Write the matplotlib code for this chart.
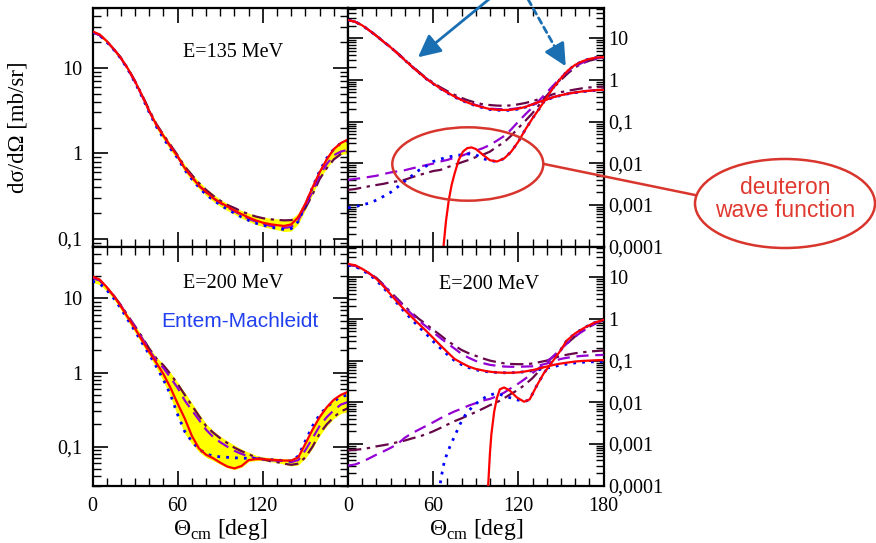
import numpy as np
import matplotlib
matplotlib.use("Agg")
import matplotlib.pyplot as plt
from matplotlib.ticker import MultipleLocator, LogLocator, FixedLocator, FuncFormatter, NullFormatter
from matplotlib.patches import Ellipse
from matplotlib.lines import Line2D

plt.rcParams['font.family'] = ['Liberation Serif', 'DejaVu Serif']
plt.rcParams['mathtext.fontset'] = 'custom'
plt.rcParams['mathtext.rm'] = 'Liberation Serif'

# common angle grid (deg)
ang = np.arange(0, 181, 5)

# ---- E=135 MeV, left (total) ----
tl_red = [26.5, 24.5, 20.5, 16.5, 13.0, 9.7, 6.9, 4.7, 3.1, 2.15, 1.6, 1.2, 0.92, 0.67, 0.53, 0.42, 0.356, 0.30,
          0.267, 0.24, 0.215, 0.195, 0.178, 0.165, 0.155, 0.149, 0.145, 0.142, 0.148, 0.18, 0.26, 0.40, 0.60, 0.85,
          1.12, 1.32, 1.45]
tl_vio = [26, 24, 20.3, 16.4, 12.9, 9.6, 6.8, 4.65, 3.1, 2.15, 1.6, 1.2, 0.92, 0.67, 0.53, 0.42, 0.35, 0.30, 0.262,
          0.235, 0.21, 0.19, 0.172, 0.16, 0.15, 0.143, 0.138, 0.135, 0.138, 0.165, 0.24, 0.36, 0.55, 0.75, 0.95,
          1.05, 1.1]
tl_mar = [26, 24, 20.3, 16.5, 13.1, 9.8, 7.0, 4.8, 3.2, 2.2, 1.65, 1.25, 0.95, 0.70, 0.56, 0.45, 0.375, 0.32, 0.28,
          0.25, 0.23, 0.21, 0.195, 0.183, 0.175, 0.17, 0.167, 0.165, 0.166, 0.18, 0.23, 0.33, 0.50, 0.67, 0.85,
          0.98, 1.05]
tl_blu = [26, 24, 20, 16.2, 12.8, 9.5, 6.7, 4.55, 3.0, 2.05, 1.5, 1.13, 0.88, 0.64, 0.50, 0.40, 0.33, 0.285, 0.25,
          0.222, 0.20, 0.18, 0.165, 0.153, 0.145, 0.138, 0.133, 0.129, 0.132, 0.16, 0.25, 0.40, 0.62, 0.88, 1.12,
          1.32, 1.42]
tl_lo = [25.5, 23.5, 19.5, 15.8, 12.4, 9.2, 6.5, 4.4, 2.9, 1.95, 1.45, 1.08, 0.85, 0.61, 0.48, 0.385, 0.32, 0.275,
         0.24, 0.215, 0.195, 0.175, 0.16, 0.148, 0.14, 0.133, 0.128, 0.122, 0.124, 0.15, 0.22, 0.33, 0.50, 0.67,
         0.85, 0.97, 1.0]
tl_hi = [27.5, 25.2, 21.3, 17, 13.6, 10.1, 7.2, 4.95, 3.3, 2.3, 1.72, 1.3, 0.98, 0.74, 0.58, 0.47, 0.39, 0.335,
         0.29, 0.26, 0.235, 0.215, 0.20, 0.188, 0.18, 0.175, 0.172, 0.17, 0.172, 0.20, 0.28, 0.43, 0.65, 0.92,
         1.18, 1.38, 1.5]

# ---- E=200 MeV, left (total) ----
bl_red = [19.7, 18, 14.2, 10.8, 7.8, 5.5, 3.9, 2.7, 1.9, 1.35, 0.95, 0.62, 0.38, 0.24, 0.14, 0.095, 0.078, 0.07,
          0.061, 0.054, 0.051, 0.055, 0.066, 0.068, 0.068, 0.067, 0.066, 0.065, 0.065, 0.072, 0.11, 0.17, 0.25,
          0.34, 0.43, 0.50, 0.55]
bl_vio = [19, 17.5, 14, 10.8, 8.0, 5.7, 4.1, 2.9, 2.0, 1.45, 1.15, 0.85, 0.62, 0.42, 0.31, 0.23, 0.17, 0.135, 0.115,
          0.10, 0.088, 0.08, 0.074, 0.07, 0.068, 0.066, 0.065, 0.064, 0.062, 0.066, 0.09, 0.13, 0.19, 0.25, 0.31,
          0.37, 0.40]
bl_mar = [19, 17.5, 14, 10.9, 8.1, 5.8, 4.2, 3.0, 2.1, 1.55, 1.25, 0.95, 0.70, 0.50, 0.36, 0.26, 0.19, 0.155, 0.13,
          0.112, 0.097, 0.087, 0.079, 0.072, 0.068, 0.064, 0.062, 0.059, 0.057, 0.059, 0.072, 0.10, 0.15, 0.20,
          0.25, 0.30, 0.33]
bl_blu = [17, 15.8, 13, 10, 7.3, 5.1, 3.6, 2.5, 1.75, 1.2, 0.80, 0.50, 0.27, 0.16, 0.118, 0.093, 0.08, 0.075, 0.073,
          0.072, 0.071, 0.07, 0.07, 0.069, 0.068, 0.067, 0.066, 0.065, 0.064, 0.075, 0.12, 0.19, 0.27, 0.34, 0.41,
          0.47, 0.50]
bl_lo = [16.5, 15.3, 12.6, 9.7, 7.0, 4.9, 3.45, 2.4, 1.68, 1.15, 0.76, 0.47, 0.26, 0.15, 0.11, 0.085, 0.072, 0.065,
         0.058, 0.052, 0.049, 0.053, 0.063, 0.065, 0.065, 0.063, 0.061, 0.058, 0.055, 0.057, 0.07, 0.095, 0.14,
         0.19, 0.24, 0.28, 0.30]
bl_hi = [20.3, 18.6, 14.7, 11.3, 8.4, 6.0, 4.35, 3.1, 2.2, 1.62, 1.3, 1.0, 0.74, 0.54, 0.39, 0.28, 0.205, 0.165,
         0.138, 0.12, 0.105, 0.093, 0.084, 0.077, 0.073, 0.071, 0.07, 0.069, 0.068, 0.077, 0.12, 0.18, 0.26, 0.35,
         0.44, 0.51, 0.56]

# ---- E=135 MeV, right: two contributions ----
tr_red_a = [27.5, 25, 20.5, 15.5, 11.5, 8.3, 6.1, 4.3, 3.0, 2.1, 1.5, 1.08, 0.82, 0.63, 0.50, 0.40, 0.33, 0.28,
            0.245, 0.22, 0.20, 0.192, 0.19, 0.192, 0.205, 0.225, 0.26, 0.30, 0.34, 0.39, 0.43, 0.47, 0.50, 0.53,
            0.55, 0.57, 0.58]
tr_blu_a = [27.5, 25, 20.5, 15.5, 11.5, 8.3, 6.1, 4.3, 3.0, 2.1, 1.5, 1.08, 0.81, 0.62, 0.49, 0.39, 0.325, 0.275,
            0.24, 0.215, 0.195, 0.188, 0.185, 0.188, 0.20, 0.222, 0.255, 0.295, 0.335, 0.385, 0.425, 0.465, 0.495,
            0.525, 0.545, 0.565, 0.575]
tr_vio_a = [27.5, 25, 20.5, 15.5, 11.5, 8.3, 6.1, 4.3, 3.0, 2.1, 1.5, 1.08, 0.82, 0.63, 0.50, 0.40, 0.335, 0.285,
            0.25, 0.225, 0.205, 0.2, 0.198, 0.2, 0.21, 0.23, 0.26, 0.30, 0.34, 0.39, 0.43, 0.47, 0.50, 0.53, 0.55,
            0.57, 0.58]
tr_mar_a = [27.5, 25, 20.5, 15.5, 11.5, 8.4, 6.2, 4.4, 3.1, 2.2, 1.55, 1.12, 0.86, 0.67, 0.54, 0.44, 0.37, 0.32,
            0.285, 0.26, 0.25, 0.242, 0.24, 0.245, 0.26, 0.28, 0.31, 0.35, 0.40, 0.46, 0.51, 0.55, 0.59, 0.63, 0.66,
            0.68, 0.69]
tr_ang_red_b = [67, 69, 71, 73, 75, 78, 81, 84, 87, 90, 95, 100, 105, 110, 115, 120, 125, 130, 135, 140, 145, 150,
                155, 160, 165, 170, 175, 180]
tr_red_b = [0.00008, 0.0004, 0.0013, 0.003, 0.0055, 0.012, 0.019, 0.023, 0.024, 0.022, 0.016, 0.0118, 0.011, 0.013,
            0.019, 0.033, 0.065, 0.12, 0.21, 0.38, 0.68, 1.1, 1.7, 2.3, 2.8, 3.2, 3.45, 3.55]
tr_blu_b = [0.00085, 0.0009, 0.001, 0.0011, 0.0013, 0.0016, 0.002, 0.0027, 0.0037, 0.005, 0.0068, 0.0085, 0.011,
            0.0125, 0.014, 0.015, 0.016, 0.0167, 0.016, 0.013, 0.0115, 0.011, 0.013, 0.019, 0.033, 0.065, 0.12,
            0.21, 0.38, 0.68, 1.1, 1.7, 2.3, 2.8, 3.2, 3.45, 3.55]
tr_vio_b = [0.004, 0.0042, 0.0044, 0.0047, 0.005, 0.0055, 0.006, 0.0064, 0.0068, 0.0075, 0.0082, 0.009, 0.0098,
            0.011, 0.012, 0.0135, 0.015, 0.0175, 0.02, 0.023, 0.0275, 0.035, 0.045, 0.065, 0.10, 0.15, 0.22, 0.33,
            0.50, 0.76, 1.15, 1.6, 2.1, 2.6, 3.0, 3.3, 3.5]
tr_mar_b = [0.0023, 0.0024, 0.0026, 0.0028, 0.003, 0.0032, 0.0035, 0.0037, 0.004, 0.0046, 0.0052, 0.0058, 0.0065,
            0.0069, 0.008, 0.0092, 0.0105, 0.012, 0.014, 0.016, 0.019, 0.025, 0.032, 0.046, 0.07, 0.105, 0.16,
            0.26, 0.42, 0.66, 1.0, 1.45, 2.0, 2.5, 2.9, 3.2, 3.4]

# ---- E=200 MeV, right: two contributions ----
br_red_a = [21, 19.5, 16, 12.5, 9.2, 6.1, 3.9, 2.5, 1.63, 1.1, 0.755, 0.52, 0.35, 0.235, 0.16, 0.11, 0.088, 0.072,
            0.063, 0.058, 0.054, 0.052, 0.051, 0.051, 0.052, 0.055, 0.059, 0.065, 0.072, 0.079, 0.085, 0.09, 0.095,
            0.098, 0.10, 0.102, 0.103]
br_blu_a = [19.5, 18.3, 15, 11.7, 8.5, 5.6, 3.6, 2.3, 1.45, 0.97, 0.64, 0.44, 0.29, 0.20, 0.14, 0.10, 0.08, 0.068,
            0.06, 0.056, 0.053, 0.052, 0.051, 0.051, 0.052, 0.054, 0.057, 0.061, 0.066, 0.072, 0.078, 0.083, 0.088,
            0.091, 0.093, 0.094, 0.095]
br_vio_a = [20, 19, 15.5, 12.3, 9.5, 6.5, 4.2, 2.8, 1.9, 1.3, 0.90, 0.66, 0.48, 0.35, 0.26, 0.195, 0.145, 0.117,
            0.098, 0.087, 0.079, 0.075, 0.072, 0.071, 0.071, 0.072, 0.073, 0.077, 0.085, 0.097, 0.11, 0.118, 0.125,
            0.13, 0.133, 0.135, 0.137]
br_mar_a = [20, 19, 15.5, 12.4, 9.7, 6.7, 4.4, 3.0, 2.0, 1.4, 1.0, 0.75, 0.55, 0.41, 0.30, 0.23, 0.18, 0.15, 0.13,
            0.113, 0.10, 0.092, 0.086, 0.083, 0.082, 0.082, 0.085, 0.092, 0.10, 0.115, 0.13, 0.14, 0.15, 0.158,
            0.165, 0.17, 0.175]
br_ang_red_b = [98.5, 100, 101, 103, 105, 107, 110, 114, 119, 124, 128, 133, 138, 145, 150, 154, 160, 166, 173, 180]
br_red_b = [0.00007, 0.0006, 0.0017, 0.006, 0.013, 0.0205, 0.0226, 0.019, 0.013, 0.0103, 0.0117, 0.025, 0.05,
            0.105, 0.18, 0.30, 0.45, 0.60, 0.80, 0.95]
br_ang_blu_b = [64, 66, 68, 70, 72, 75, 79, 83, 88, 93, 98, 103, 107, 112, 117, 121, 125, 128, 133, 138, 145, 150,
                154, 160, 166, 173, 180]
br_blu_b = [0.00007, 0.00018, 0.0004, 0.0006, 0.0009, 0.0015, 0.003, 0.0052, 0.008, 0.011, 0.014, 0.016, 0.0155,
            0.0135, 0.012, 0.011, 0.0105, 0.0117, 0.025, 0.05, 0.105, 0.18, 0.30, 0.45, 0.60, 0.80, 0.95]
br_vio_b = [0.0003, 0.00032, 0.00037, 0.00045, 0.00055, 0.00066, 0.0008, 0.001, 0.0014, 0.0018, 0.0022, 0.0027,
            0.0033, 0.0041, 0.005, 0.006, 0.007, 0.0083, 0.0095, 0.011, 0.012, 0.014, 0.017, 0.022, 0.028, 0.037,
            0.05, 0.068, 0.094, 0.13, 0.19, 0.27, 0.38, 0.50, 0.65, 0.80, 0.95]
br_mar_b = [0.0007, 0.00072, 0.00075, 0.0008, 0.00087, 0.00093, 0.001, 0.0011, 0.0012, 0.00135, 0.0015, 0.0017,
            0.002, 0.0024, 0.0029, 0.0035, 0.0041, 0.0049, 0.0058, 0.007, 0.0085, 0.010, 0.0125, 0.016, 0.02, 0.027,
            0.038, 0.058, 0.09, 0.13, 0.19, 0.27, 0.38, 0.50, 0.65, 0.80, 0.95]

RED = '#ff0000'
BLUE = '#0000ff'
VIOLET = '#9400d3'
MAROON = '#670748'


def curves(ax, x, red, blu, vio, mar, xred=None, xblu=None):
    ax.plot(x, mar, color=MAROON, lw=1.6, ls=(0, (6, 2.5, 1.5, 2.5)), zorder=3)
    ax.plot(x, vio, color=VIOLET, lw=1.6, ls=(0, (5.5, 3)), zorder=4)
    ax.plot(x if xblu is None else xblu, blu, color=BLUE, lw=2.0, ls=(0, (1, 2.2)), zorder=5)
    ax.plot(x if xred is None else xred, red, color=RED, lw=1.6, zorder=6)


def yfmt(v, pos):
    if v >= 1:
        return '%d' % round(v)
    return ('%g' % v).replace('.', ',')


def style(ax, ylim, yticks, right_labels, xlabels):
    ax.set_xlim(0, 180)
    ax.set_yscale('log')
    ax.set_ylim(*ylim)
    ax.xaxis.set_major_locator(MultipleLocator(60))
    ax.xaxis.set_minor_locator(MultipleLocator(10))
    ax.yaxis.set_major_locator(FixedLocator(yticks))
    ax.yaxis.set_minor_locator(LogLocator(base=10, subs=np.arange(2, 10), numticks=20))
    ax.yaxis.set_major_formatter(FuncFormatter(yfmt))
    ax.yaxis.set_minor_formatter(NullFormatter())
    ax.tick_params(which='major', direction='in', length=11, width=1.2, top=True, right=True,
                   labelsize=14.5)
    ax.tick_params(which='minor', direction='in', length=6, width=1.0, top=True, right=True)
    ax.tick_params(axis='x', pad=8)
    if right_labels:
        ax.tick_params(axis='y', labelleft=False, labelright=True, pad=3.5)
    else:
        ax.tick_params(axis='y', pad=7)
    if xlabels is None:
        ax.tick_params(axis='x', labelbottom=False)
    else:
        ax.xaxis.set_major_formatter(FuncFormatter(lambda v, p: str(int(v)) if int(v) in xlabels else ''))
        ax.set_xlabel(r'Θ$_{\mathrm{cm}}$ [deg]', fontsize=17, labelpad=1)
    for s in ax.spines.values():
        s.set_linewidth(1.6)


fig = plt.figure(figsize=(8.76, 5.43), dpi=100)
W, H = 876.0, 543.0
x0, xm, x1 = 92.5, 348.0, 603.5
y0, ym, y1 = 7.5, 246.5, 485.5
ax_tl = fig.add_axes([x0 / W, 1 - ym / H, (xm - x0) / W, (ym - y0) / H])
ax_tr = fig.add_axes([xm / W, 1 - ym / H, (x1 - xm) / W, (ym - y0) / H])
ax_bl = fig.add_axes([x0 / W, 1 - y1 / H, (xm - x0) / W, (y1 - ym) / H])
ax_br = fig.add_axes([xm / W, 1 - y1 / H, (x1 - xm) / W, (y1 - ym) / H])

left_ticks = [0.1, 1, 10]
right_ticks = [1e-4, 1e-3, 1e-2, 0.1, 1, 10]

# left panels
ax_tl.fill_between(ang, tl_lo, tl_hi, color='#ffff00', lw=0, zorder=2)
curves(ax_tl, ang, tl_red, tl_blu, tl_vio, tl_mar)
style(ax_tl, (0.0817, 50.5), left_ticks, False, None)
ax_tl.set_ylabel('dσ/dΩ [mb/sr]', fontsize=16.5)
ax_tl.yaxis.set_label_coords(-0.252, 0.5)
ax_tl.text(0.55, 0.81, 'E=135 MeV', transform=ax_tl.transAxes, ha='center', va='center', fontsize=14.5)

ax_bl.fill_between(ang, bl_lo, bl_hi, color='#ffff00', lw=0, zorder=2)
curves(ax_bl, ang, bl_red, bl_blu, bl_vio, bl_mar)
style(ax_bl, (0.030, 50), left_ticks, False, [0, 60, 120])
ax_bl.text(0.55, 0.847, 'E=200 MeV', transform=ax_bl.transAxes, ha='center', va='center', fontsize=14.5)
ax_bl.text(0.577, 0.685, 'Entem-Machleidt', transform=ax_bl.transAxes, ha='center', va='center',
           fontsize=15, color='#2040f0', family=['Liberation Sans', 'DejaVu Sans'])

# right panels
curves(ax_tr, ang, tr_red_a, tr_blu_a, tr_vio_a, tr_mar_a)
curves(ax_tr, ang, tr_red_b, tr_blu_b, tr_vio_b, tr_mar_b, xred=tr_ang_red_b)
style(ax_tr, (1e-4, 55), right_ticks, True, None)

curves(ax_br, ang, br_red_a, br_blu_a, br_vio_a, br_mar_a)
curves(ax_br, ang, br_red_b, br_blu_b, br_vio_b, br_mar_b, xred=br_ang_red_b, xblu=br_ang_blu_b)
style(ax_br, (1e-4, 55), right_ticks, True, [0, 60, 120, 180])
ax_br.text(0.552, 0.841, 'E=200 MeV', transform=ax_br.transAxes, ha='center', va='center', fontsize=14.5)

# blue arrows in the top right panel
ARROW = '#1a6fb3'
head = dict(arrowstyle='-|>,head_length=0.85,head_width=0.42', color=ARROW, lw=2.0,
            mutation_scale=16, shrinkA=0, shrinkB=0)
ax_tr.annotate('', xy=(49.3, 3.5), xytext=(107, 142), annotation_clip=False, arrowprops=head)
ax_tr.annotate('', xy=(153.4, 2.13), xytext=(123.3, 142), annotation_clip=False,
               arrowprops=dict(arrowstyle='-', color=ARROW, lw=2.0, ls=(0, (2.2, 1.6)),
                               shrinkA=0, shrinkB=6))
ax_tr.annotate('', xy=(153.4, 2.13), xytext=(149.5, 3.6), annotation_clip=False, arrowprops=head)

# red call-out: ellipse, line, labelled ellipse
CALL = '#d8352d'
fig.add_artist(Ellipse((467.8 / W, 1 - 164 / H), 151 / W, 73.4 / H, transform=fig.transFigure,
                       fill=False, edgecolor=CALL, lw=1.8, zorder=10))
fig.add_artist(Line2D([544 / W, 695 / W], [1 - 164 / H, 1 - 195 / H], transform=fig.transFigure,
                      color=CALL, lw=1.8, zorder=10))
fig.add_artist(Ellipse((785 / W, 1 - 203.5 / H), 180 / W, 89 / H, transform=fig.transFigure,
                       fill=False, edgecolor=CALL, lw=1.8, zorder=10))
fig.text(785 / W, 1 - 199 / H, 'deuteron\nwave function', ha='center', va='center', color='#e03a30',
         fontsize=16.5, family=['Liberation Sans', 'DejaVu Sans'], linespacing=1.05)

fig.savefig('out.png', dpi=100)
